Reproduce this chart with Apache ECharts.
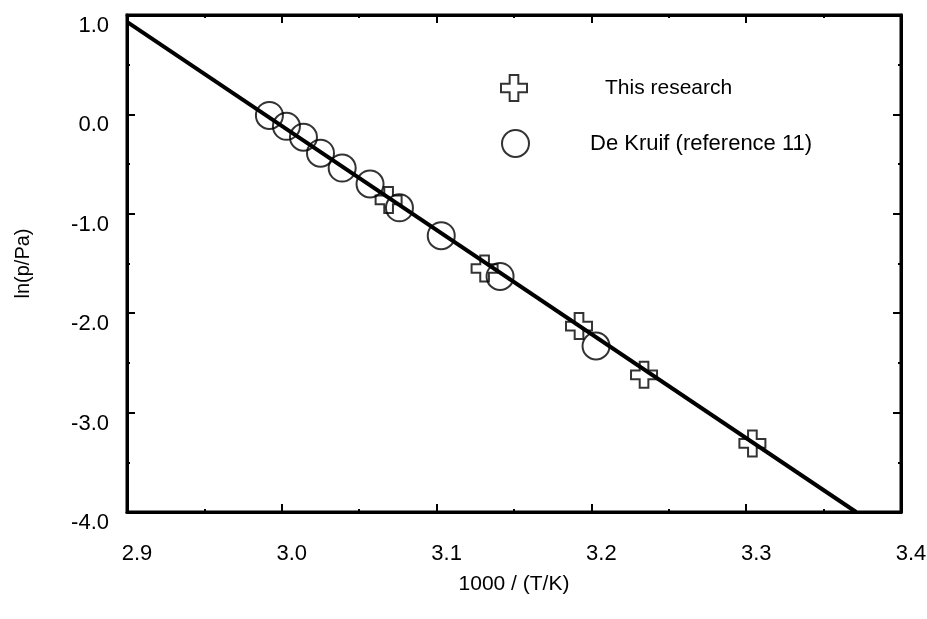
<!DOCTYPE html>
<html>
<head>
<meta charset="utf-8">
<script src="https://cdn.jsdelivr.net/npm/echarts@6/dist/echarts.min.js"></script>
<style>
  html, body { margin: 0; padding: 0; background: #fff; }
  #main { width: 927px; height: 619px; }
</style>
</head>
<body>
<div id="main"></div>
<script>
// data: [1000/(T/K), ln(p/Pa)]
var thisResearch = [
  [3.069, -0.86],
  [3.131, -1.55],
  [3.192, -2.13],
  [3.234, -2.62],
  [3.304, -3.31]
];
var deKruif = [
  [2.992, -0.01],
  [3.003, -0.12],
  [3.014, -0.23],
  [3.025, -0.39],
  [3.039, -0.54],
  [3.057, -0.70],
  [3.076, -0.94],
  [3.103, -1.22],
  [3.141, -1.63],
  [3.203, -2.33]
];
// fitted line, ends where it leaves the frame
var fitLine = [
  [2.9, 0.93],
  [3.371, -4.0]
];

var FONT = "'Liberation Sans', Arial, sans-serif";
var plusPath = "path://M1,0H2V1H3V2H2V3H1V2H0V1H1Z";

var chart = echarts.init(document.getElementById("main"));

var tickOpts = { show: true, inside: true, length: 8, lineStyle: { color: "#000", width: 2 } };
var minorOpts = { show: true, splitNumber: 2, length: 3, lineStyle: { color: "#000", width: 2 } };

var option = {
  backgroundColor: "#fff",
  animation: false,
  grid: {
    left: 127, right: 26, top: 15, bottom: 107,
    outerBoundsMode: "none",
    show: true, borderColor: "#000", borderWidth: 3
  },
  legend: [
    {
      left: 500, top: 74, padding: 0,
      itemWidth: 26, itemHeight: 26, itemGap: 0,
      data: ["This research"],
      textStyle: { fontFamily: FONT, fontSize: 21, color: "#000", padding: [0, 0, 0, 73] }
    },
    {
      left: 501, top: 129, padding: 0,
      itemWidth: 27, itemHeight: 27, itemGap: 0,
      data: ["De Kruif (reference 11)"],
      textStyle: { fontFamily: FONT, fontSize: 22, color: "#000", padding: [0, 0, 0, 56] }
    }
  ],
  xAxis: [
    {
      type: "value", min: 2.9, max: 3.4, interval: 0.1,
      name: "1000 / (T/K)", nameLocation: "middle", nameGap: 62,
      nameTextStyle: { fontFamily: FONT, fontSize: 21, color: "#000" },
      axisLine: { show: true, onZero: false, lineStyle: { color: "#000", width: 3 } },
      axisTick: tickOpts,
      minorTick: minorOpts,
      splitLine: { show: false },
      axisLabel: {
        fontFamily: FONT, fontSize: 22, color: "#000", margin: 31,
        padding: [0, 0, 0, 20],
        formatter: function (v) { return v.toFixed(1); }
      }
    },
    {
      type: "value", position: "top", min: 2.9, max: 3.4, interval: 0.1,
      axisLine: { show: true, onZero: false, lineStyle: { color: "#000", width: 3 } },
      axisTick: tickOpts,
      minorTick: minorOpts,
      splitLine: { show: false },
      axisLabel: { show: false }
    }
  ],
  yAxis: [
    {
      type: "value", min: -4, max: 1, interval: 1,
      name: "ln(p/Pa)", nameLocation: "middle", nameGap: 94, nameRotate: 90,
      nameTextStyle: { fontFamily: FONT, fontSize: 20, color: "#000" },
      axisLine: { show: true, onZero: false, lineStyle: { color: "#000", width: 3 } },
      axisTick: tickOpts,
      minorTick: minorOpts,
      splitLine: { show: false },
      axisLabel: {
        fontFamily: FONT, fontSize: 22, color: "#000", margin: 18,
        verticalAlign: "top",
        formatter: function (v) { return v.toFixed(1); }
      }
    },
    {
      type: "value", position: "right", min: -4, max: 1, interval: 1,
      axisLine: { show: true, onZero: false, lineStyle: { color: "#000", width: 3 } },
      axisTick: tickOpts,
      minorTick: minorOpts,
      splitLine: { show: false },
      axisLabel: { show: false }
    }
  ],
  series: [
    {
      name: "fit",
      type: "line",
      data: fitLine,
      showSymbol: false,
      symbol: "none",
      lineStyle: { color: "#000", width: 4 },
      z: 1
    },
    {
      name: "This research",
      type: "scatter",
      data: thisResearch,
      symbol: plusPath,
      symbolSize: 26,
      itemStyle: { color: "rgba(255,255,255,0)", borderColor: "#000", borderWidth: 2 },
      z: 3
    },
    {
      name: "De Kruif (reference 11)",
      type: "scatter",
      data: deKruif,
      symbol: "circle",
      symbolSize: 27,
      itemStyle: { color: "rgba(255,255,255,0)", borderColor: "#000", borderWidth: 2 },
      z: 2
    }
  ]
};

chart.setOption(option);
</script>
</body>
</html>
